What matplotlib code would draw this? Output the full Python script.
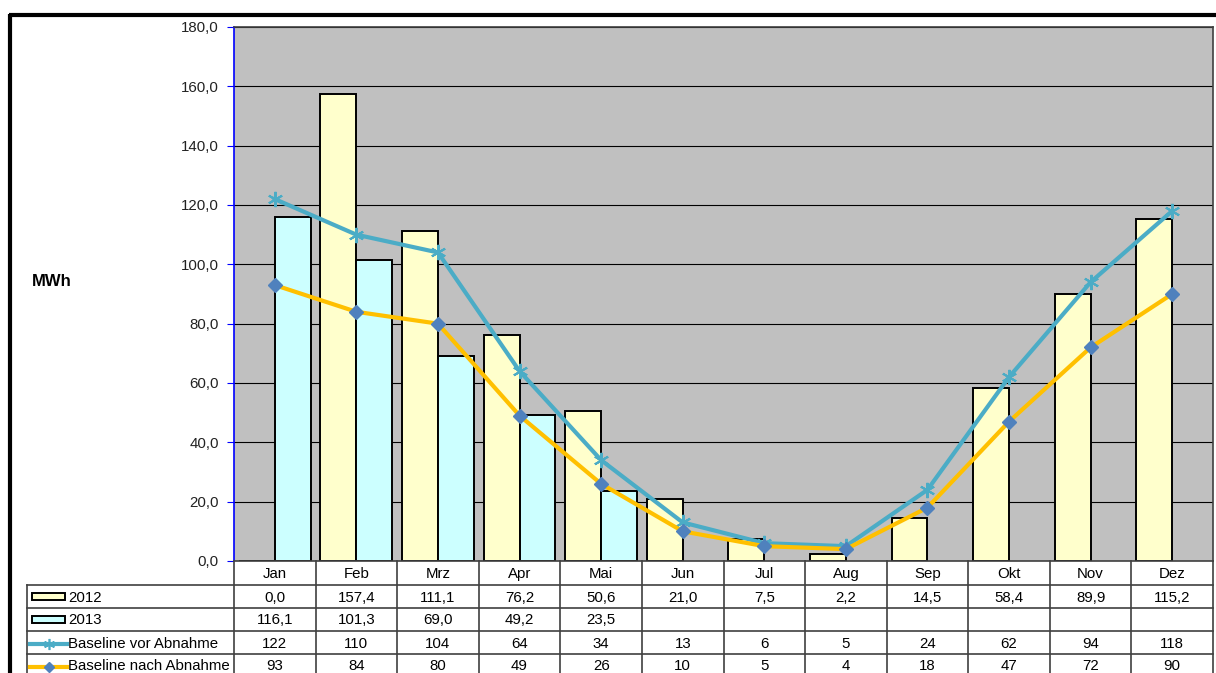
import matplotlib.pyplot as plt
import numpy as np
from matplotlib.patches import Rectangle
from matplotlib.lines import Line2D

plt.rcParams['font.family'] = ['Liberation Sans', 'DejaVu Sans']

# monthly consumption, MWh
months = ["Jan", "Feb", "Mrz", "Apr", "Mai", "Jun", "Jul", "Aug", "Sep", "Okt", "Nov", "Dez"]
y2012 = [0.0, 157.4, 111.1, 76.2, 50.6, 21.0, 7.5, 2.2, 14.5, 58.4, 89.9, 115.2]
y2013 = [116.1, 101.3, 69.0, 49.2, 23.5, None, None, None, None, None, None, None]
baseline_vor = [122, 110, 104, 64, 34, 13, 6, 5, 24, 62, 94, 118]
baseline_nach = [93, 84, 80, 49, 26, 10, 5, 4, 18, 47, 72, 90]

C2012 = "#FFFFCC"
C2013 = "#CCFFFF"
CVOR = "#4BACC6"
CNACH = "#FFC000"
CDIA = "#4F81BD"
FS = 10.8

W, H = 1216, 673
fig = plt.figure(figsize=(W / 100, H / 100), dpi=100)

# plot area in pixels
px_l, px_r, px_t, px_b = 234, 1213, 27, 561
ax = fig.add_axes([px_l / W, (H - px_b) / H, (px_r - px_l) / W, (px_b - px_t) / H])
ax.set_facecolor("#C0C0C0")

x = np.arange(len(months))
bw = 0.44
v12 = np.array(y2012, dtype=float)
v13 = np.array([np.nan if v is None else v for v in y2013], dtype=float)
ax.bar(x - bw / 2, v12, width=bw, color=C2012, edgecolor="black", linewidth=1.4, zorder=2)
ax.bar(x + bw / 2, v13, width=bw, color=C2013, edgecolor="black", linewidth=1.4, zorder=2)
ax.plot(x, baseline_vor, color=CVOR, lw=3, marker=(6, 2, 0), ms=11, mew=1.5,
        mec=CVOR, zorder=3)
ax.plot(x, baseline_nach, color=CNACH, lw=3, marker="D", ms=7, mfc=CDIA, mec=CDIA, zorder=3)

ax.set_xlim(-0.5, len(months) - 0.5)
ax.set_ylim(0, 180)
ax.set_yticks(np.arange(0, 181, 20))
ax.set_yticklabels([f"{v:.1f}".replace(".", ",") for v in np.arange(0, 181, 20)],
                   fontsize=FS, color="#222222")
ax.yaxis.grid(True, color="black", lw=0.8)
ax.set_axisbelow(True)
ax.set_xticks([])
ax.tick_params(axis="y", direction="out", length=5, color="blue", pad=6)
for s in ["top", "right", "bottom"]:
    ax.spines[s].set_color("#404040")
    ax.spines[s].set_linewidth(1.2)
ax.spines["left"].set_color("blue")
ax.spines["left"].set_linewidth(1.2)

# overlay in pixel coordinates for frame, unit label and data table
ov2 = fig.add_axes([0, 0, 1, 1])
ov2.set_xlim(0, W)
ov2.set_ylim(H, 0)
ov2.axis("off")
ov2.patch.set_alpha(0)

ov2.plot([9, W + 5], [15, 15], color="black", lw=3, solid_capstyle="butt")
ov2.plot([9.5, 9.5], [14, H + 5], color="black", lw=3, solid_capstyle="butt")

ov2.text(52, 282, "MWh", fontsize=12, fontweight="bold", ha="center", va="center")

tcol = "#404040"
cw = (px_r - px_l) / len(months)
tab_l = 27
rows_y = [585, 608, 631, 654, 677]
# vertical grid lines
for i in range(len(months) + 1):
    xx = px_l + i * cw
    ov2.plot([xx, xx], [px_b, H + 5], color=tcol, lw=1.2)
ov2.plot([tab_l, tab_l], [rows_y[0], H + 5], color=tcol, lw=1.2)
for yy in rows_y:
    ov2.plot([tab_l, px_r], [yy, yy], color=tcol, lw=1.2)

for i, m in enumerate(months):
    ov2.text(px_l + (i + 0.5) * cw, 574, m, fontsize=FS, ha="center", va="center")


def fmt1(v):
    return "" if v is None else f"{v:.1f}".replace(".", ",")


table_rows = [
    ("2012", [fmt1(v) for v in y2012]),
    ("2013", [fmt1(v) for v in y2013]),
    ("Baseline vor Abnahme", [str(v) for v in baseline_vor]),
    ("Baseline nach Abnahme", [str(v) for v in baseline_nach]),
]
for r, (label, vals) in enumerate(table_rows):
    yc = (rows_y[r] + rows_y[r + 1]) / 2 + 1
    ov2.text(68, yc, label, fontsize=FS, ha="left", va="center")
    for i, s in enumerate(vals):
        ov2.text(px_l + (i + 0.5) * cw, yc, s, fontsize=FS, ha="center", va="center")

# legend keys in the table
ov2.add_patch(Rectangle((32, 593), 33, 7, facecolor=C2012, edgecolor="black", lw=1.4))
ov2.add_patch(Rectangle((32, 616), 33, 7, facecolor=C2013, edgecolor="black", lw=1.4))
yk = (rows_y[2] + rows_y[3]) / 2 + 1
ov2.add_line(Line2D([30, 67], [yk, yk], color=CVOR, lw=3))
ov2.add_line(Line2D([48.5], [yk], color=CVOR, marker=(6, 2, 0), ms=8, mew=1.2))
yk = (rows_y[3] + rows_y[4]) / 2 + 1
ov2.add_line(Line2D([30, 67], [yk, yk], color=CNACH, lw=3))
ov2.add_line(Line2D([48.5], [yk], color=CDIA, marker="D", ms=5))

fig.savefig("out.png", dpi=100)
